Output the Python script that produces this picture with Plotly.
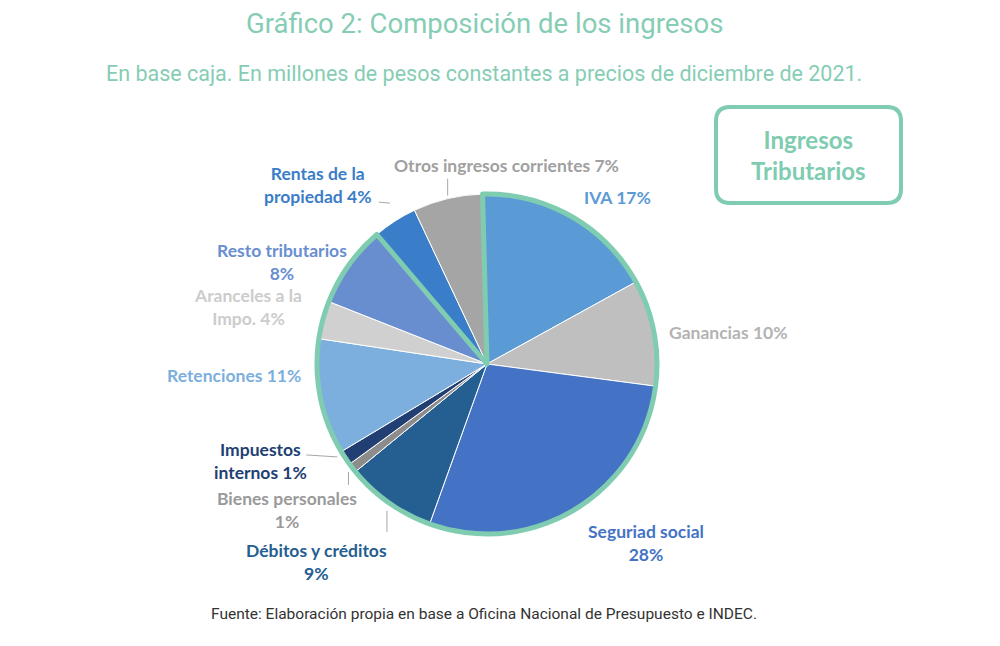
import numpy as np
import plotly.graph_objects as go

# %%
# shares (percent of total income)
names = [
    "IVA", "Ganancias", "Seguriad social", "Débitos y créditos", "Bienes personales",
    "Impuestos<br>internos", "Retenciones", "Aranceles a la<br>Impo.", "Resto tributarios",
    "Rentas de la<br>propiedad", "Otros ingresos corrientes",
]
values = [17.4, 10.1, 28.4, 8.6, 0.9, 1.4, 11.0, 3.6, 7.8, 4.2, 6.6]
tributario = [True, True, True, True, True, True, True, True, True, False, False]
pct_sep = [" ", " ", "<br>", "<br>", "<br>", " ", " ", " ", "<br>", " ", " "]

slice_colors = ["#5B9BD5", "#BFBFBF", "#4472C4", "#255E91", "#8C8C8C", "#223F73",
                "#7CAFDD", "#D0D0D0", "#698ED0", "#3A7DC8", "#A5A5A5"]
label_colors = ["#5B9BD5", "#B3B3B3", "#4472C4", "#255E91", "#9A9A9A", "#223F73",
                "#7CAFDD", "#CCCCCC", "#698ED0", "#3A7DC8", "#A0A0A0"]

TEAL = "#7FCCB1"
W, H = 1000, 646
OFF = 8  # page margin around the plot div
CX, CY, R = 487, 364, 170  # pie centre / radius in screen px
ROT = -1.5


def pxx(px):
    return (px - OFF) / W


def pxy(py):
    return 1 - (py - OFF) / H


# label offsets from slice edge (px, screen direction) and leader lines
label_offsets = [(46, -19), (74, 0), (70, 34), (-72, 59), (-65, 42), (-85, 3),
                 (-86, -22), (-75, -13), (-67, -3), (-77, -36), (59, -33)]
leaders = {
    3: [(-2, 8), (-2, 29)],
    4: [(-4, 4), (-4, 17)],
    5: [(-8, -1), (-39, -3)],
    9: [(-5, -18), (-16, -19)],
    10: [(0, -3), (0, -20)],
}

total = sum(values)
texts = [f"{n}{s}{round(v / total * 100)}%" for n, s, v in zip(names, pct_sep, values)]

dom_x = [pxx(CX - R), pxx(CX + R)]
dom_y = [pxy(CY + R), pxy(CY - R)]

fig = go.Figure()
fig.add_trace(
    go.Pie(
        labels=[n.replace("<br>", " ") for n in names],
        values=values,
        sort=False,
        direction="clockwise",
        rotation=ROT,
        marker=dict(colors=slice_colors, line=dict(color="white", width=1)),
        textinfo="none",
        domain=dict(x=dom_x, y=dom_y),
        showlegend=False,
    )
)

# teal outline around the tax income slices
trib_sum = sum(v for v, t in zip(values, tributario) if t)
fig.add_trace(
    go.Pie(
        labels=["Tributarios", "No tributarios"],
        values=[trib_sum, total - trib_sum],
        sort=False,
        direction="clockwise",
        rotation=ROT,
        marker=dict(colors=["rgba(0,0,0,0)", "rgba(0,0,0,0)"],
                    line=dict(color=[TEAL, "rgba(0,0,0,0)"], width=[5, 0])),
        textinfo="none",
        hoverinfo="skip",
        domain=dict(x=dom_x, y=dom_y),
        showlegend=False,
    )
)

# labels placed at each slice's mid angle
cum = np.cumsum([0] + values)
mids = ROT + (cum[:-1] + cum[1:]) / 2 / total * 360
for i, (txt, col, mid) in enumerate(zip(texts, label_colors, mids)):
    th = np.deg2rad(mid)
    tx = CX + R * np.sin(th)
    ty = CY - R * np.cos(th)
    ax, ay = label_offsets[i]
    fig.add_annotation(
        x=pxx(tx + ax), y=pxy(ty + ay), xref="paper", yref="paper",
        text=txt, showarrow=False, xanchor="center", yanchor="middle", align="center",
        font=dict(family="Lato", size=17.5, color=col, weight="bold"),
    )
    if i in leaders:
        pts = [(tx + dx, ty + dy) for dx, dy in leaders[i]]
        path = "M " + " L ".join(f"{pxx(px)},{pxy(py)}" for px, py in pts)
        fig.add_shape(type="path", path=path, xref="paper", yref="paper",
                      line=dict(color="#A6A6A6", width=1))

# "Ingresos Tributarios" box with rounded corners
bx0, by0, bx1, by1, rr = 716, 107, 901, 203, 14


def pp(px, py):
    return f"{pxx(px)},{pxy(py)}"


box_path = (
    f"M {pp(bx0 + rr, by0)} L {pp(bx1 - rr, by0)} Q {pp(bx1, by0)} {pp(bx1, by0 + rr)} "
    f"L {pp(bx1, by1 - rr)} Q {pp(bx1, by1)} {pp(bx1 - rr, by1)} "
    f"L {pp(bx0 + rr, by1)} Q {pp(bx0, by1)} {pp(bx0, by1 - rr)} "
    f"L {pp(bx0, by0 + rr)} Q {pp(bx0, by0)} {pp(bx0 + rr, by0)} Z"
)
fig.add_shape(type="path", path=box_path, xref="paper", yref="paper",
              line=dict(color=TEAL, width=4))
fig.add_annotation(
    x=pxx((bx0 + bx1) / 2), y=pxy((by0 + by1) / 2), xref="paper", yref="paper",
    text="Ingresos<br>Tributarios", showarrow=False, align="center",
    xanchor="center", yanchor="middle",
    font=dict(family="Lato", size=24, color=TEAL, weight="bold"),
)

# titles and source
for txt, ypx, size, col in [
    ("Gráfico 2: Composición de los ingresos", 24, 27.5, "#86CDB4"),
    ("En base caja. En millones de pesos constantes a precios de diciembre de 2021.", 73, 21.5, "#86CDB4"),
    ("Fuente: Elaboración propia en base a Oficina Nacional de Presupuesto e INDEC.", 614, 15.5, "#333333"),
]:
    fig.add_annotation(
        x=pxx(484), y=pxy(ypx), xref="paper", yref="paper", showarrow=False,
        xanchor="center", yanchor="middle", text=txt,
        font=dict(family="Roboto", size=size, color=col),
    )

fig.update_layout(
    width=W, height=H,
    margin=dict(l=0, r=0, t=0, b=0),
    paper_bgcolor="white", plot_bgcolor="white",
)

fig.write_html("out.html")
